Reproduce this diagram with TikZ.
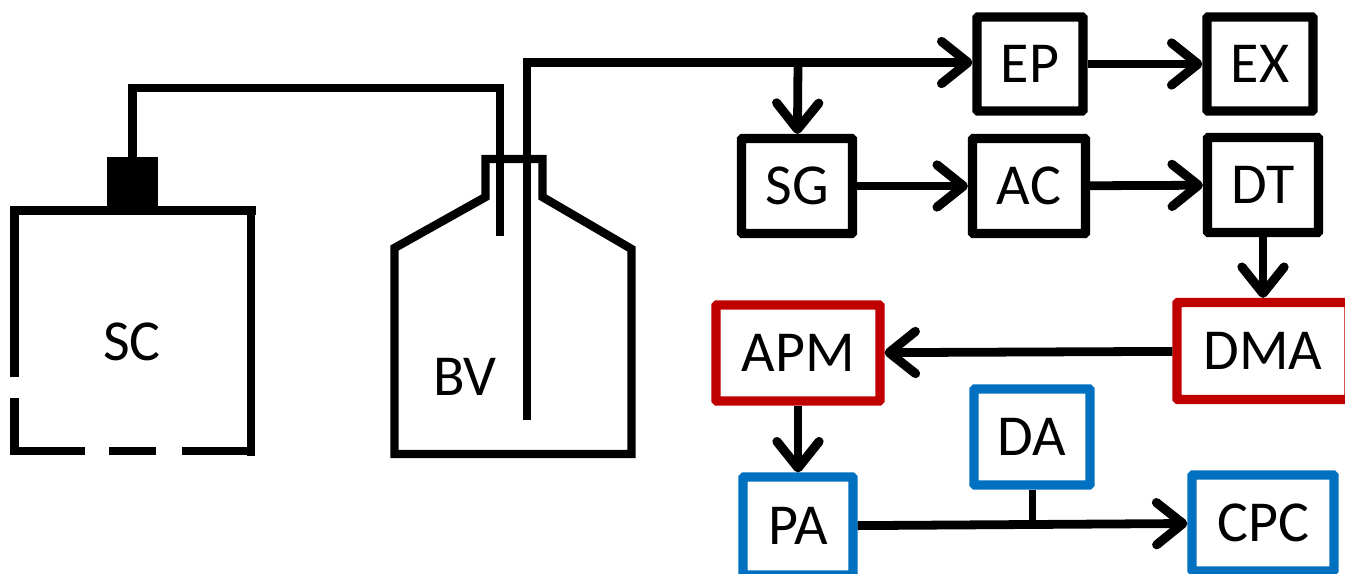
\documentclass[tikz,border=0pt]{standalone}
\usepackage{fontspec}
\setmainfont{Carlito}
\usetikzlibrary{arrows.meta}
\definecolor{dmared}{RGB}{192,0,0}
\definecolor{dablue}{RGB}{0,112,192}
\tikzset{
  pipe/.style={line width=4.8pt,black,line join=miter},
  flow/.style={line width=5pt,black,-{Straight Barb[length=15pt,width=24pt,line width=5.2pt,round]}},
  unit/.style={draw=black,line width=5.2pt,fill=white,inner sep=0pt,font=\fontsize{33}{33}\selectfont,rounded corners=0.5pt},
  redunit/.style={unit,draw=dmared},
  blueunit/.style={unit,draw=dablue},
  tag/.style={font=\fontsize{33}{33}\selectfont,inner sep=0pt}
}
\begin{document}
\begin{tikzpicture}[x=0.02cm,y=-0.02cm]
  \useasboundingbox (0,0) rectangle (1345,574);

  % supply cylinder
  \fill (107,157) rectangle (158,212);
  \draw[pipe] (14.5,377) -- (14.5,210.5) -- (256,210.5);
  \draw[pipe] (251,210.5) -- (251,456);
  \draw[pipe] (252,451) -- (182,451);
  \draw[pipe] (156,451) -- (109,451);
  \draw[pipe] (85,451) -- (14.5,451) -- (14.5,398);
  \node[tag] (sc) at (132,342) {SC};

  % bottle
  \draw[pipe] (394.5,454) -- (394.5,248) -- (485.5,197) -- (485.5,159) -- (542.5,159) -- (542.5,197) -- (631.5,249) -- (631.5,454) -- cycle;
  \node[tag] (bv) at (465,377) {BV};

  % tubes
  \coordinate (sctop) at (132.5,157);
  \coordinate (tubeA) at (500,236);
  \coordinate (tubeB) at (527,420);
  \coordinate (tap) at (798,62.5);
  \draw[pipe] (sctop) -- (132.5,88) -- (500,88) -- (tubeA);
  \draw[pipe] (tubeB) -- (527,62.5) -- (tap);

  % units
  \node[unit,minimum width=2.12cm,minimum height=1.88cm] (ep) at (1030,64) {EP};
  \node[unit,minimum width=2.12cm,minimum height=1.88cm] (ex) at (1260,64) {EX};
  \node[unit,minimum width=2.22cm,minimum height=1.9cm] (sg) at (797,186) {SG};
  \node[unit,minimum width=2.26cm,minimum height=1.9cm] (ac) at (1029,186) {AC};
  \node[unit,minimum width=2.22cm,minimum height=1.9cm] (dt) at (1263,185) {DT};
  \node[redunit,minimum width=3.44cm,minimum height=1.94cm] (dma) at (1263,351) {DMA};
  \node[redunit,minimum width=3.28cm,minimum height=1.92cm] (apm) at (798,353) {APM};
  \node[blueunit,minimum width=2.32cm,minimum height=1.92cm] (da) at (1032,437) {DA};
  \node[blueunit,minimum width=2.2cm,minimum height=1.96cm] (pa) at (798,526) {PA};
  \node[blueunit,minimum width=2.84cm,minimum height=1.92cm] (cpc) at (1263,523) {CPC};

  % connectors
  \draw[flow] (527,62.5) -- (ep.west |- 527,62.5);
  \draw[flow] (tap) -- (sg);
  \draw[flow] (ep) -- (ex);
  \draw[flow] (sg) -- (ac);
  \draw[flow] (ac) -- (dt);
  \draw[flow] (dt) -- (dma);
  \draw[flow] (dma) -- (apm);
  \draw[flow] (apm) -- (pa);
  \draw[flow] (pa) -- (cpc);
  \draw[pipe,line width=4pt] (da) -- (1032,522);
\end{tikzpicture}
\end{document}
